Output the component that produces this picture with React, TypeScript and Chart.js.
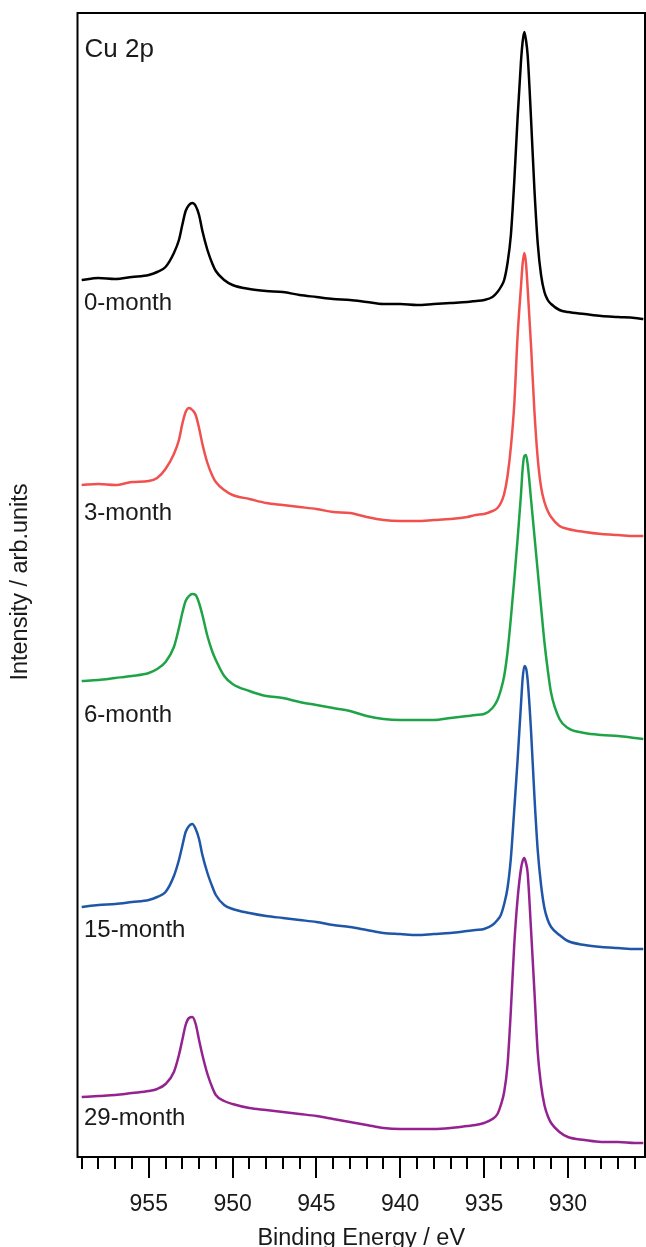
import React, { useEffect, useRef } from 'react';
import { Chart, registerables } from 'chart.js';

Chart.register(...registerables);

// Binding energy grid (eV)
const BINDING_ENERGY = [
  959, 958, 957, 956, 955, 954.5, 954, 953.5, 953.2, 953,
  952.8, 952.6, 952.4, 952.2, 952, 951.8, 951.5, 951.2, 951, 950.5,
  950, 949, 948, 947, 946, 945, 944, 943, 942, 941,
  940, 939, 938, 937, 936, 935.5, 935, 934.5, 934.2, 934,
  933.8, 933.6, 933.4, 933.2, 933, 932.8, 932.7, 932.6, 932.5, 932.4,
  932.2, 932, 931.8, 931.6, 931.4, 931.2, 931, 930.5, 930, 929,
  928, 927, 926, 925.5,
];

// Stacked intensities (arb. units, offset per spectrum)
const MONTH_0 = [
  877, 879, 878, 880, 882, 885, 890, 904, 917, 932,
  946, 952, 954, 951, 942, 926, 907, 893, 886, 877,
  872, 868, 866, 865, 862, 860, 858, 857, 855, 853,
  853, 852, 853, 854, 855, 856, 857, 860, 865, 870,
  877, 894, 922, 975, 1039, 1095, 1115, 1125, 1117, 1102,
  1039, 969, 914, 882, 865, 857, 853, 847, 845, 843,
  841, 840, 839, 838,
];
const MONTH_3 = [
  672, 673, 672, 675, 676, 679, 688, 703, 717, 733,
  745, 749, 747, 742, 729, 713, 694, 681, 675, 667,
  662, 658, 654, 652, 650, 648, 645, 644, 640, 637,
  636, 636, 637, 638, 640, 642, 643, 646, 649, 654,
  663, 681, 710, 752, 821, 870, 893, 904, 894, 869,
  812, 747, 699, 670, 655, 646, 640, 631, 628, 625,
  623, 622, 621, 621,
];
const MONTH_6 = [
  476, 477, 479, 481, 484, 488, 495, 510, 529, 544,
  556, 561, 563, 562, 554, 542, 521, 505, 497, 481,
  473, 466, 461, 459, 455, 452, 449, 446, 441, 438,
  437, 437, 437, 439, 441, 442, 443, 449, 457, 467,
  481, 505, 539, 577, 618, 662, 688, 701, 702, 693,
  658, 622, 586, 550, 515, 487, 464, 438, 429, 424,
  422, 421, 419, 418,
];
const MONTH_15 = [
  250, 252, 253, 255, 257, 260, 265, 281, 297, 311,
  325, 331, 333, 328, 318, 302, 284, 270, 262, 252,
  248, 244, 241, 239, 237, 235, 232, 230, 227, 224,
  223, 222, 223, 224, 226, 227, 228, 232, 237, 242,
  253, 269, 299, 347, 397, 452, 478, 491, 489, 477,
  427, 362, 307, 272, 249, 237, 230, 222, 216, 212,
  210, 209, 208, 208,
];
const MONTH_29 = [
  60, 61, 62, 64, 66, 68, 73, 85, 102, 117,
  132, 139, 140, 133, 117, 102, 83, 69, 62, 56,
  53, 49, 47, 45, 43, 41, 38, 35, 32, 29,
  28, 28, 28, 29, 31, 32, 34, 38, 43, 52,
  65, 92, 147, 212, 258, 288, 296, 299, 294, 284,
  228, 167, 105, 72, 52, 41, 34, 25, 20, 17,
  15, 15, 14, 14,
];

const SERIES_LABELS = ['0-month', '3-month', '6-month', '15-month', '29-month'];
const SERIES_COLORS = ['#000000', '#f0504e', '#1ea446', '#1f56a8', '#952291'];
const X_TICK_LABELS = [955, 950, 945, 940, 935, 930];
const X_MIN = 925.4;
const X_MAX = 959.25;
const Y_MIN = 0;
const Y_MAX = 1144;

const FONT = '"Liberation Sans", Arial, Helvetica, sans-serif';

// label baselines (px) for series names
const LABEL_BASELINES = [310, 520, 722, 937, 1125];

export default function App() {
  const canvasRef = useRef<HTMLCanvasElement | null>(null);

  useEffect(() => {
    const canvas = canvasRef.current;
    if (!canvas) return;
    const seriesValues = [MONTH_0, MONTH_3, MONTH_6, MONTH_15, MONTH_29];

    const decor = {
      id: 'xpsDecor',
      afterDraw(chart: any) {
        const { ctx, chartArea: a, scales } = chart;
        const x = scales.x;
        ctx.save();
        ctx.strokeStyle = '#000';
        ctx.lineWidth = 2;
        ctx.strokeRect(a.left, a.top, a.right - a.left, a.bottom - a.top);

        // tick marks
        for (let v = Math.ceil(X_MIN); v <= Math.floor(X_MAX); v++) {
          const px = Math.round(x.getPixelForValue(v));
          const major = v % 5 === 0;
          ctx.beginPath();
          ctx.moveTo(px, a.bottom);
          ctx.lineTo(px, a.bottom + (major ? 21 : 12));
          ctx.stroke();
        }

        ctx.fillStyle = '#1a1a1a';
        ctx.textAlign = 'center';
        ctx.textBaseline = 'alphabetic';
        ctx.font = `23px ${FONT}`;
        X_TICK_LABELS.forEach((t) => {
          ctx.fillText(String(t), x.getPixelForValue(t), 1211);
        });
        ctx.font = `23.5px ${FONT}`;
        ctx.fillText('Binding Energy / eV', (a.left + a.right) / 2, 1245);

        // y title
        ctx.save();
        ctx.translate(27, (a.top + a.bottom) / 2 - 3);
        ctx.rotate(-Math.PI / 2);
        ctx.fillText('Intensity / arb.units', 0, 0);
        ctx.restore();

        // panel label
        ctx.textAlign = 'left';
        ctx.font = `26px ${FONT}`;
        ctx.fillText('Cu 2p', 84.5, 56.5);

        // series labels
        ctx.font = `24px ${FONT}`;
        SERIES_LABELS.forEach((lab, i) => {
          ctx.fillText(lab, 84, LABEL_BASELINES[i]);
        });
        ctx.restore();
      },
    };

    const chart = new Chart(canvas, {
      type: 'line',
      data: {
        datasets: SERIES_LABELS.map((lab, i) => ({
          label: lab,
          data: BINDING_ENERGY.map((e, j) => ({ x: e, y: seriesValues[i][j] })),
          borderColor: SERIES_COLORS[i],
          borderWidth: 2.5,
          pointRadius: 0,
          fill: false,
          cubicInterpolationMode: 'monotone' as const,
        })),
      },
      options: {
        responsive: false,
        animation: false,
        events: [],
        layout: { padding: { left: 77.5, right: 1, top: 13, bottom: 90 } },
        plugins: { legend: { display: false }, tooltip: { enabled: false } },
        scales: {
          x: { type: 'linear', min: X_MIN, max: X_MAX, reverse: true, display: false },
          y: { type: 'linear', min: Y_MIN, max: Y_MAX, display: false },
        },
      },
      plugins: [decor],
    });
    return () => chart.destroy();
  }, []);

  return (
    <div style={{ position: 'absolute', left: 0, top: 0, width: 646, height: 1247, background: '#fff' }}>
      <canvas ref={canvasRef} width={646} height={1247} style={{ display: 'block' }} />
    </div>
  );
}
